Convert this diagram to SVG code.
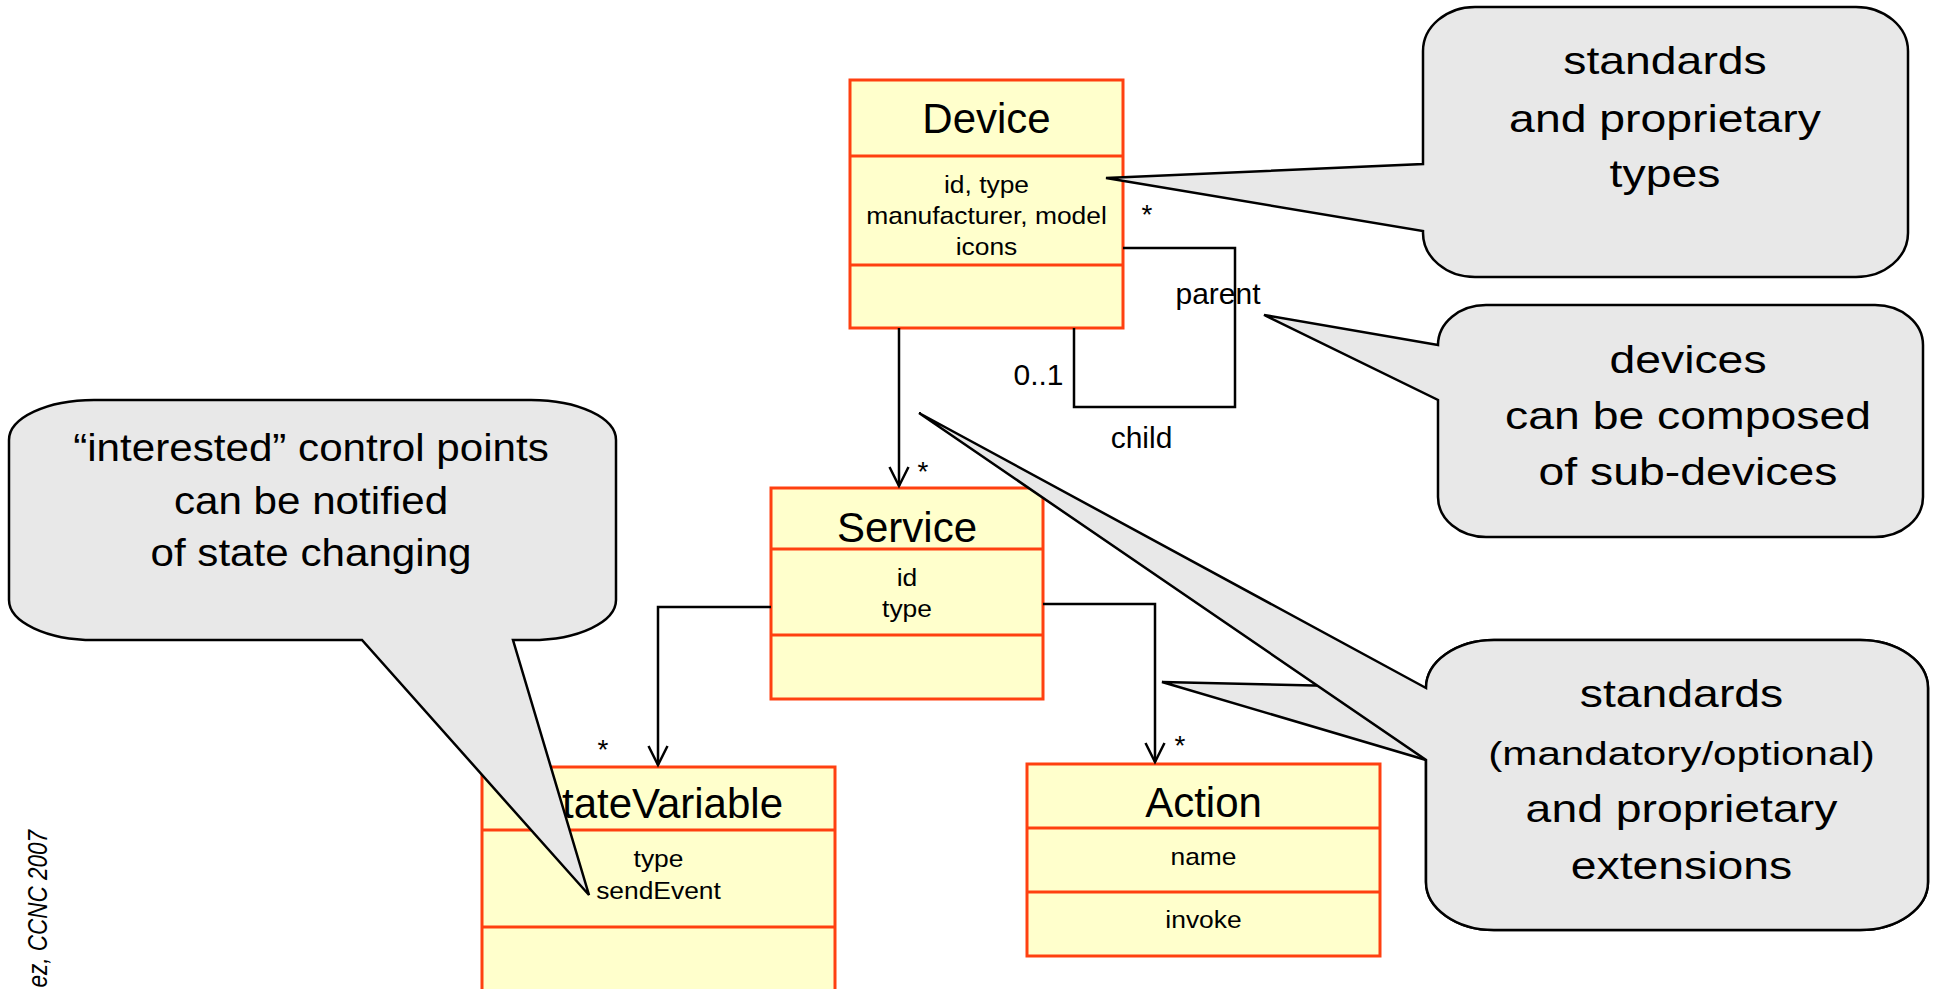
<svg xmlns="http://www.w3.org/2000/svg" width="1937" height="989" viewBox="0 0 1937 989">
  <style>
    .box { fill: #FFFFCC; stroke: #FF4010; stroke-width: 3; }
    .div { stroke: #FF4010; stroke-width: 3; fill: none; }
    .title { font-family: "Liberation Sans", Arial, Helvetica, sans-serif; font-size: 42px; text-anchor: middle; fill: #000; }
    .attr { font-family: "Liberation Sans", Arial, Helvetica, sans-serif; font-size: 24px; text-anchor: middle; fill: #000; }
    .conn { fill: none; stroke: #000; stroke-width: 2.5; }
    .lbl { font-family: "Liberation Sans", Arial, Helvetica, sans-serif; font-size: 30px; text-anchor: middle; fill: #000; }
    .star { font-family: "Liberation Sans", Arial, Helvetica, sans-serif; font-size: 28px; text-anchor: middle; fill: #000; }
    .bubble { fill: #E8E8E8; stroke: #000; stroke-width: 2.5; stroke-linejoin: miter; }
    .note { font-family: "Liberation Sans", Arial, Helvetica, sans-serif; font-size: 38px; text-anchor: middle; fill: #000; }
    .credit { font-family: "Liberation Sans", Arial, Helvetica, sans-serif; font-size: 22.5px; font-style: italic; text-anchor: end; fill: #000; }
  </style>
  <defs>
    <marker id="open-arrow" markerUnits="userSpaceOnUse" markerWidth="26" markerHeight="26" viewBox="-22 -13 26 26" refX="0" refY="0" orient="auto" overflow="visible">
      <path d="M -19,-9.5 L 0,0 L -19,9.5" fill="none" stroke="#000" stroke-width="2.5"/>
    </marker>
  </defs>

  <rect width="1937" height="989" fill="#FFFFFF"/>

  <!-- UML classes -->
  <g id="device">
    <rect class="box" x="850" y="80" width="273" height="248"/>
    <line class="div" x1="850" y1="156" x2="1123" y2="156"/>
    <line class="div" x1="850" y1="265" x2="1123" y2="265"/>
    <text class="title" x="986.5" y="133">Device</text>
    <g transform="translate(986.5 0) scale(1.1 1)">
      <text class="attr" x="0" y="193">id, type</text>
      <text class="attr" x="0" y="224">manufacturer, model</text>
      <text class="attr" x="0" y="255">icons</text>
    </g>
  </g>

  <g id="service">
    <rect class="box" x="771" y="488" width="272" height="211"/>
    <line class="div" x1="771" y1="549" x2="1043" y2="549"/>
    <line class="div" x1="771" y1="635" x2="1043" y2="635"/>
    <text class="title" x="907" y="542">Service</text>
    <g transform="translate(907 0) scale(1.1 1)">
      <text class="attr" x="0" y="586">id</text>
      <text class="attr" x="0" y="617">type</text>
    </g>
  </g>

  <g id="statevariable">
    <rect class="box" x="482" y="767" width="353" height="240"/>
    <line class="div" x1="482" y1="830" x2="835" y2="830"/>
    <line class="div" x1="482" y1="927" x2="835" y2="927"/>
    <text class="title" x="658.5" y="818">StateVariable</text>
    <g transform="translate(658.5 0) scale(1.1 1)">
      <text class="attr" x="0" y="867">type</text>
      <text class="attr" x="0" y="899">sendEvent</text>
    </g>
  </g>

  <g id="action">
    <rect class="box" x="1027" y="764" width="353" height="192"/>
    <line class="div" x1="1027" y1="828" x2="1380" y2="828"/>
    <line class="div" x1="1027" y1="892" x2="1380" y2="892"/>
    <text class="title" x="1203.5" y="817">Action</text>
    <g transform="translate(1203.5 0) scale(1.1 1)">
      <text class="attr" x="0" y="865">name</text>
      <text class="attr" x="0" y="928">invoke</text>
    </g>
  </g>

  <!-- associations -->
  <g id="connectors">
    <path class="conn" d="M 899,328 V 486" marker-end="url(#open-arrow)"/>
    <path class="conn" d="M 771,607 H 658 V 765" marker-end="url(#open-arrow)"/>
    <path class="conn" d="M 1043,604 H 1155 V 762" marker-end="url(#open-arrow)"/>
    <path class="conn" d="M 1123,248 H 1235 V 407 H 1074 V 328"/>
    <text class="star" x="923" y="481">*</text>
    <text class="star" x="1147" y="224">*</text>
    <text class="star" x="603" y="759">*</text>
    <text class="star" x="1180" y="755">*</text>
    <text class="lbl" x="1218" y="304">parent</text>
    <text class="lbl" x="1038.5" y="385">0..1</text>
    <text class="lbl" x="1141.5" y="448">child</text>
  </g>

  <!-- annotation callouts -->
  <g id="note-types">
    <path class="bubble" d="M 1475,7 H 1856 A 52 44 0 0 1 1908,51 V 233 A 52 44 0 0 1 1856,277 H 1475 A 52 44 0 0 1 1423,233 V 231 L 1106,178 L 1423,164 V 51 A 52 44 0 0 1 1475,7 Z"/>
    <g transform="translate(1665 0) scale(1.22 1)">
      <text class="note" x="0" y="74">standards</text>
      <text class="note" x="0" y="132">and proprietary</text>
      <text class="note" x="0" y="187">types</text>
    </g>
  </g>

  <g id="note-composition">
    <path class="bubble" d="M 1486,305 H 1875 A 48 40 0 0 1 1923,345 V 497 A 48 40 0 0 1 1875,537 H 1486 A 48 40 0 0 1 1438,497 V 400 L 1264,315 L 1438,345 A 48 40 0 0 1 1486,305 Z"/>
    <g transform="translate(1688 0) scale(1.22 1)">
      <text class="note" x="0" y="373">devices</text>
      <text class="note" x="0" y="429">can be composed</text>
      <text class="note" x="0" y="485">of sub-devices</text>
    </g>
  </g>

  <g id="note-events">
    <path class="bubble" d="M 94,400 H 531 A 85 40 0 0 1 616,440 V 600 A 85 40 0 0 1 531,640 H 513 L 589,895 L 362,640 H 94 A 85 40 0 0 1 9,600 V 440 A 85 40 0 0 1 94,400 Z"/>
    <g transform="translate(311 0) scale(1.11 1)">
      <text class="note" x="0" y="461">“interested” control points</text>
      <text class="note" x="0" y="514">can be notified</text>
      <text class="note" x="0" y="566">of state changing</text>
    </g>
  </g>

  <g id="note-extensions">
    <!-- lower pointer (towards the Action link) -->
    <path class="bubble" d="M 1494,640 H 1860 A 68 48 0 0 1 1928,688 V 882 A 68 48 0 0 1 1860,930 H 1494 A 68 48 0 0 1 1426,882 V 760 L 1162,682 L 1426,688 A 68 48 0 0 1 1494,640 Z"/>
    <!-- upper pointer (towards the Service link) -->
    <path class="bubble" d="M 1494,640 H 1860 A 68 48 0 0 1 1928,688 V 882 A 68 48 0 0 1 1860,930 H 1494 A 68 48 0 0 1 1426,882 V 760 L 919,413 L 1426,688 A 68 48 0 0 1 1494,640 Z"/>
    <g transform="translate(1681.5 0) scale(1.22 1)">
      <text class="note" x="0" y="707">standards</text>
      <text class="note" x="0" y="822">and proprietary</text>
      <text class="note" x="0" y="879">extensions</text>
    </g>
    <g transform="translate(1681.5 0) scale(1.24 1)">
      <text class="note" x="0" y="765" style="font-size:34px">(mandatory/optional)</text>
    </g>
  </g>

  <!-- footer credit, rotated along the left edge -->
  <text class="credit" transform="translate(47 830) rotate(-90) scale(1 1.2)" x="0" y="0">ez, CCNC 2007</text>
</svg>
